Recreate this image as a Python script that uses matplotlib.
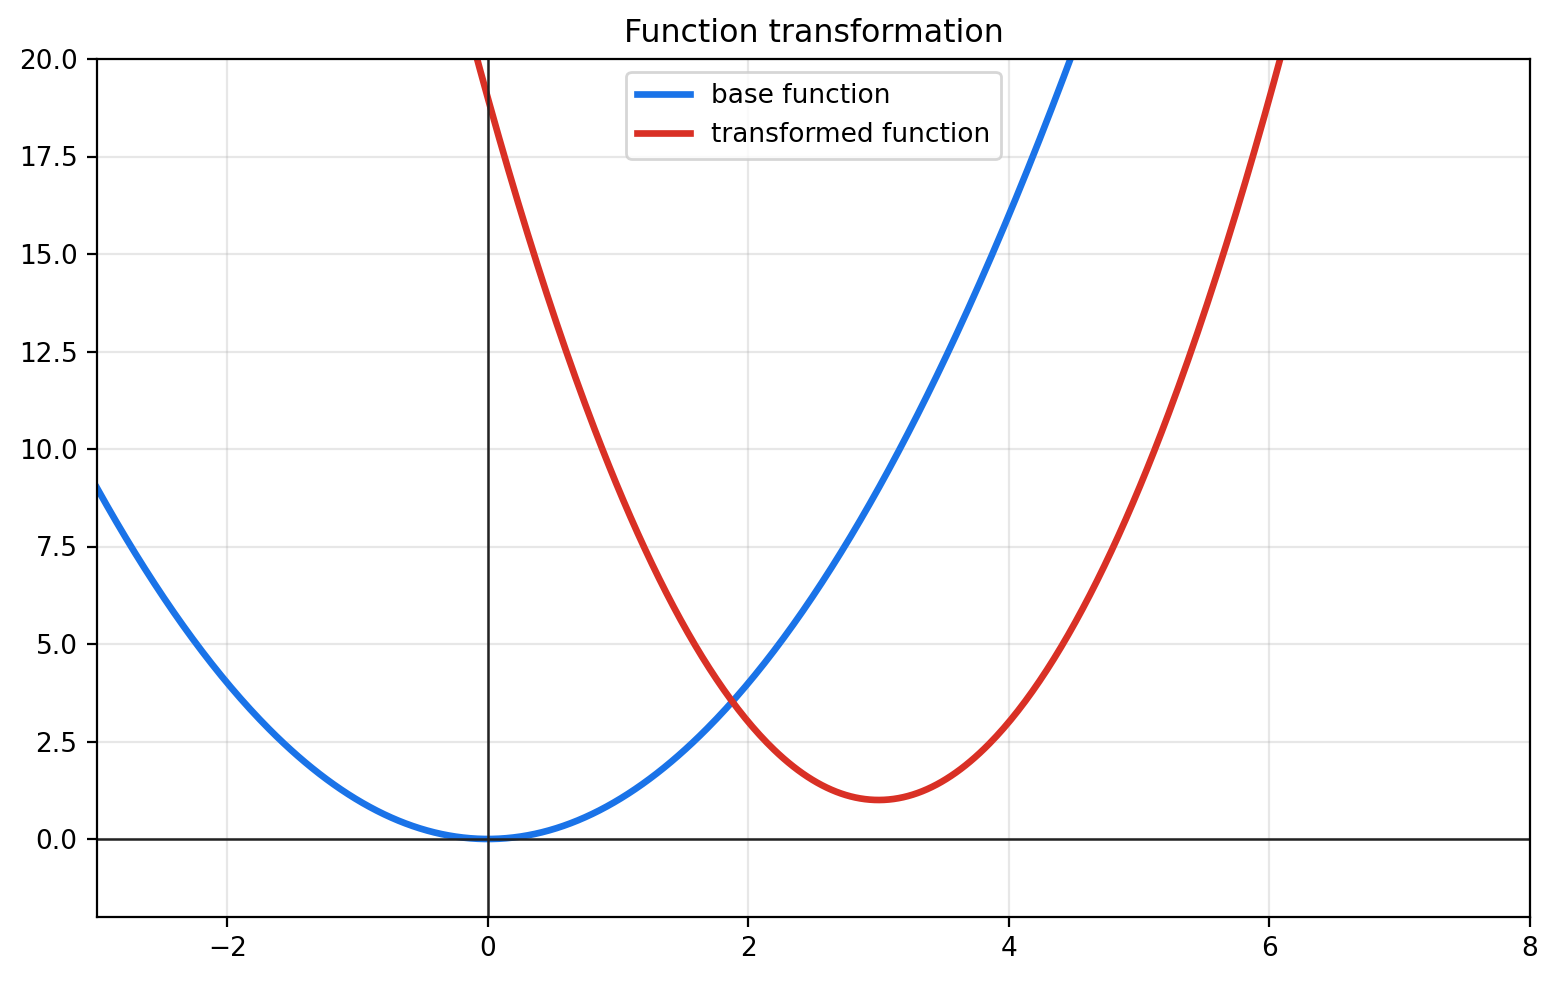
import numpy as np
from matplotlib import pyplot as plt

# function definitions: y = a * (x - h)**2 + k
base_params = [1.0, 0.0, 0.0]
transformed_params = [2.0, 3.0, 1.0]
series_labels = ["base function", "transformed function"]
series_colors = ["#1a73e8", "#d93025"]

x_range = [-3, 8]
y_range = [-2, 20]

x = np.linspace(x_range[0], x_range[1], 600)

plt.rcParams["font.size"] = 9.5

fig = plt.figure(figsize=(7.79, 4.91), dpi=200)
ax = fig.add_axes([97 / 1558, 1 - 917 / 982, (1530 - 97) / 1558, (917 - 59) / 982])

for params, label, color in zip([base_params, transformed_params], series_labels, series_colors):
    a, h, k = params
    ax.plot(x, a * (x - h) ** 2 + k, color=color, lw=2.4, label=label)

ax.axhline(0, color="#222222", lw=0.9)
ax.axvline(0, color="#222222", lw=0.9)
ax.grid(True, alpha=0.3)
ax.set_xlim(*x_range)
ax.set_ylim(*y_range)
ax.set_title("Function transformation", fontsize=11.4)
ax.legend(loc="upper center")

plt.savefig("out.png", dpi=200)
